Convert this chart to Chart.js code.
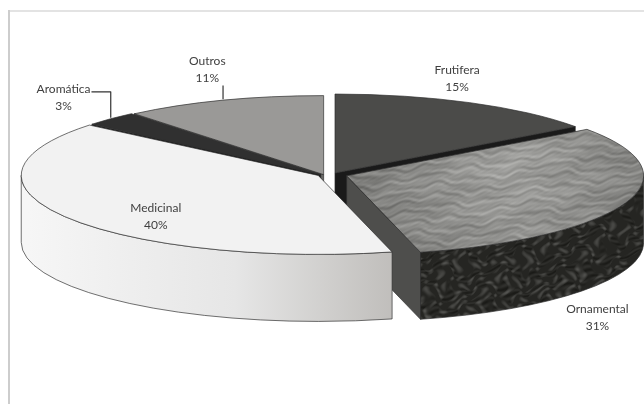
<!DOCTYPE html>
<html>
<head>
<meta charset="utf-8">
<script src="https://cdn.jsdelivr.net/npm/chart.js@4.4.1/dist/chart.umd.min.js"></script>
<style>
  html, body { margin: 0; padding: 0; background: #fff; }
  #grafico { display: block; }
</style>
</head>
<body>
<canvas id="grafico" width="644" height="404"></canvas>
<script>
// dados
const categorias = ['Frutifera', 'Ornamental', 'Medicinal', 'Aromática', 'Outros'];
const percentuais = [15, 31, 40, 3, 11];

// aparência de cada fatia
const explosao = [22, 23, 8, 6, 4];
const corTopo = ['#4b4b49', 'ornamentalTopo', '#f2f2f2', '#303030', '#9a9997'];
const corLado = ['#161616', 'ornamentalLado', 'medicinalLado', '#141414', '#5a5a58'];
const corCorte = ['#1a1a1a', '#4e4e4c', '#d9d9d9', '#1c1c1c', '#6a6a68'];
// posição dos rótulos (fator sobre a elipse, no ângulo médio) e linha guia
const rotuloPos = [[0.98, 1.37, 0], [0.975, 2.8, 1], [0.675, 0.97, 0], [1.245, 1.4, 0], [1.17, 1.42, 0]];
const guia = ['', '', '', 'cotovelo', 'reta'];

// geometria da pizza 3D
const CX = 325, CY = 175, RX = 297, RY = 79, ALTURA = 67;
const EXPLOSAO_Y = 0.1;

// textura de pedra para a fatia Ornamental (senoides periódicas no ladrilho)
function textura(base, amp, tipo) {
  const w = 320, h = 160;
  const c = document.createElement('canvas');
  c.width = w; c.height = h;
  const g = c.getContext('2d');
  const img = g.createImageData(w, h);
  const T = Math.PI * 2;
  for (let y = 0; y < h; y++) {
    for (let x = 0; x < w; x++) {
      const u = x / w, v = y / h;
      let s;
      if (tipo === 'topo') {
        const d = 1.9 * Math.sin(T * (3 * u + v)) + 1.2 * Math.sin(T * (7 * u - 2 * v)) + 0.8 * Math.sin(T * (13 * u + 3 * v));
        s = 0.42 * Math.sin(T * 17 * v + d)
          + 0.28 * Math.sin(T * (31 * v + 5 * u) + 1.5 * d)
          + 0.18 * Math.sin(T * (43 * u + 37 * v)) * Math.sin(T * (11 * v + 3 * u))
          + 0.22 * Math.sin(T * (4 * v + 2 * u) + Math.sin(T * 5 * u));
      } else {
        const d = 2.4 * Math.sin(T * (5 * u + 2 * v)) + 1.3 * Math.sin(T * (11 * u - 3 * v));
        const a = Math.sin(T * 9 * v + d + 0.7 * Math.sin(T * 23 * u));
        const b = Math.sin(T * (19 * u + 4 * v) + 1.8 * Math.sin(T * 7 * v + u * T * 2));
        s = 0.75 * Math.max(a * b, 0) - 0.15 + 0.22 * Math.sin(T * (29 * v + 13 * u) + d) * Math.max(a, 0);
      }
      const val = Math.max(0, Math.min(255, base + amp * s));
      const i = (y * w + x) * 4;
      img.data[i] = val; img.data[i + 1] = val; img.data[i + 2] = val - 3; img.data[i + 3] = 255;
    }
  }
  g.putImageData(img, 0, 0);
  return c;
}

const pizza3d = {
  id: 'pizza3d',
  beforeDraw(chart) {
    const ctx = chart.ctx;
    ctx.save();
    ctx.fillStyle = '#fff';
    ctx.fillRect(0, 0, chart.width, chart.height);
    ctx.fillStyle = '#e3e3e3';
    ctx.fillRect(8, 10, chart.width - 8, 2);
    ctx.fillStyle = '#cdcdcd';
    ctx.fillRect(8, 10, 2, chart.height - 10);
    ctx.restore();
  },
  beforeDatasetsDraw(chart) {
    const ctx = chart.ctx;
    const arcos = chart.getDatasetMeta(0).data;

    const padTopo = ctx.createPattern(textura(144, 26, 'topo'), 'repeat');
    const padLado = ctx.createPattern(textura(44, 48, 'lado'), 'repeat');
    const gradMed = ctx.createLinearGradient(CX - RX, 0, CX + 80, 0);
    gradMed.addColorStop(0, '#f6f6f6');
    gradMed.addColorStop(0.55, '#e6e6e6');
    gradMed.addColorStop(1, '#bdbbb8');
    const estilos = { ornamentalTopo: padTopo, ornamentalLado: padLado, medicinalLado: gradMed };
    const cor = c => estilos[c] || c;

    const fatias = arcos.map((el, i) => {
      const a0 = el.startAngle, a1 = el.endAngle, meio = (a0 + a1) / 2;
      const off = el.options.offset || 0;
      return { i, a0, a1, meio, cx: CX + Math.cos(meio) * off, cy: CY + Math.sin(meio) * off * EXPLOSAO_Y };
    });
    const pt = (f, a, t, z) => [f.cx + Math.cos(a) * RX * t, f.cy + Math.sin(a) * RY * t + z];

    ctx.save();
    ctx.lineWidth = 0.8;
    ctx.strokeStyle = 'rgba(45,45,45,0.85)';
    ctx.lineJoin = 'round';

    // faces de corte (radiais), de trás para frente
    const cortes = [];
    fatias.forEach(f => {
      if (Math.cos(f.a0) < 0) cortes.push({ f, a: f.a0 });
      if (Math.cos(f.a1) > 0) cortes.push({ f, a: f.a1 });
    });
    cortes.sort((p, q) => (p.f.cy + Math.sin(p.a) * RY * 0.5) - (q.f.cy + Math.sin(q.a) * RY * 0.5));
    cortes.forEach(({ f, a }) => {
      const c = [f.cx, f.cy], r = pt(f, a, 1, 0);
      ctx.beginPath();
      ctx.moveTo(c[0], c[1]);
      ctx.lineTo(r[0], r[1]);
      ctx.lineTo(r[0], r[1] + ALTURA);
      ctx.lineTo(c[0], c[1] + ALTURA);
      ctx.closePath();
      ctx.fillStyle = cor(corCorte[f.i]);
      ctx.fill();
      ctx.stroke();
    });

    // paredes externas (somente a metade da frente)
    fatias.forEach(f => {
      const b0 = Math.max(f.a0, 0), b1 = Math.min(f.a1, Math.PI);
      if (b1 <= b0) return;
      ctx.beginPath();
      ctx.ellipse(f.cx, f.cy, RX, RY, 0, b0, b1);
      ctx.ellipse(f.cx, f.cy + ALTURA, RX, RY, 0, b1, b0, true);
      ctx.closePath();
      ctx.fillStyle = cor(corLado[f.i]);
      ctx.fill();
      ctx.stroke();
    });

    // topos
    fatias.forEach(f => {
      ctx.beginPath();
      ctx.moveTo(f.cx, f.cy);
      ctx.ellipse(f.cx, f.cy, RX, RY, 0, f.a0, f.a1);
      ctx.closePath();
      ctx.fillStyle = cor(corTopo[f.i]);
      ctx.fill();
      if (corTopo[f.i] === 'ornamentalTopo') {
        // leve brilho no centro do topo texturizado
        const brilho = ctx.createRadialGradient(f.cx + RX * 0.55, f.cy - RY * 0.1, 5, f.cx + RX * 0.55, f.cy, RX * 0.5);
        brilho.addColorStop(0, 'rgba(255,255,255,0.12)');
        brilho.addColorStop(1, 'rgba(0,0,0,0.12)');
        ctx.fillStyle = brilho;
        ctx.fill();
      }
      ctx.stroke();
    });

    // rótulos
    ctx.font = '12px Lato';
    ctx.fillStyle = '#404040';
    ctx.textAlign = 'center';
    ctx.textBaseline = 'middle';
    const dados = chart.data.datasets[0].data;
    fatias.forEach(f => {
      const [kx, ky, fundo] = rotuloPos[f.i];
      const x = CX + Math.cos(f.meio) * RX * kx;
      const y = CY + Math.sin(f.meio) * RY * ky + fundo * ALTURA;
      const nome = chart.data.labels[f.i];
      ctx.fillText(nome, x, y - 8);
      ctx.fillText(dados[f.i] + '%', x, y + 9);

      const borda = pt(f, f.meio, 1, 0);
      ctx.beginPath();
      ctx.strokeStyle = '#333';
      ctx.lineWidth = 1.2;
      if (guia[f.i] === 'cotovelo') {
        const xi = x + ctx.measureText(nome).width / 2 + 1;
        ctx.moveTo(xi, y - 5);
        ctx.lineTo(borda[0], y - 5);
        ctx.lineTo(borda[0], borda[1] - 1);
      } else if (guia[f.i] === 'reta') {
        ctx.moveTo(borda[0], y + 16);
        ctx.lineTo(borda[0], borda[1] - 1);
      }
      ctx.stroke();
    });
    ctx.restore();
    return false;
  }
};

new Chart(document.getElementById('grafico'), {
  type: 'pie',
  data: {
    labels: categorias,
    datasets: [{
      data: percentuais,
      offset: explosao,
      backgroundColor: ['#4b4b49', '#8c8c8a', '#f2f2f2', '#303030', '#9a9997'],
      borderWidth: 0
    }]
  },
  options: {
    responsive: false,
    animation: false,
    layout: { padding: 0 },
    plugins: {
      legend: { display: false },
      tooltip: { enabled: false }
    }
  },
  plugins: [pizza3d]
});
</script>
</body>
</html>
